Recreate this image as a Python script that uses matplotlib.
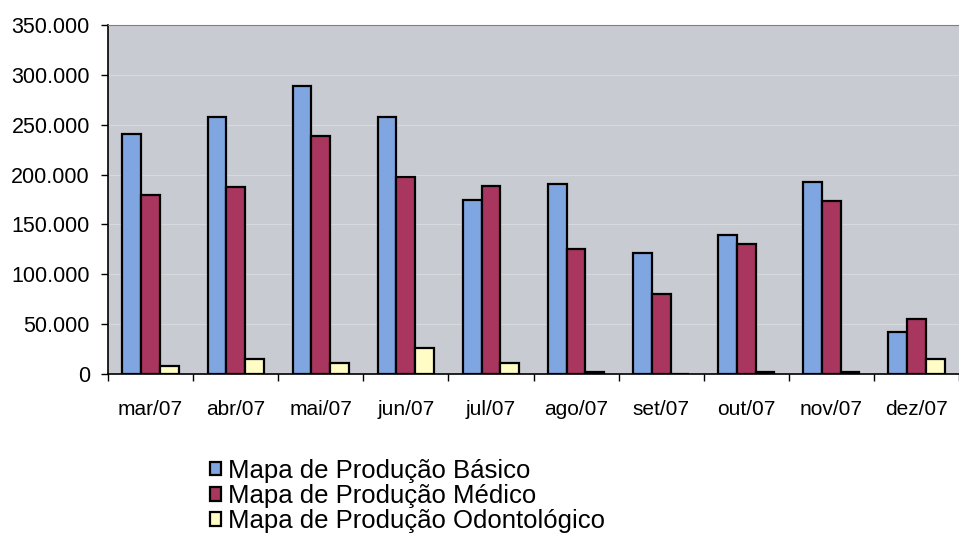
import numpy as np
import matplotlib.pyplot as plt
from matplotlib.ticker import FuncFormatter

plt.rcParams['font.family'] = ['Liberation Sans', 'DejaVu Sans']

meses = ["mar/07", "abr/07", "mai/07", "jun/07", "jul/07",
         "ago/07", "set/07", "out/07", "nov/07", "dez/07"]
basico = [241000, 258000, 289000, 258000, 174000, 191000, 121000, 139000, 193000, 42000]
medico = [180000, 188000, 239000, 198000, 189000, 125000, 80000, 130000, 173000, 55000]
odonto = [8000, 15000, 11000, 26000, 11000, 2000, 0, 2000, 2000, 15000]
series = ["Mapa de Produção Básico", "Mapa de Produção Médico",
          "Mapa de Produção Odontológico"]
cores = ["#7fa6e0", "#a8365f", "#fffcc6"]

fig = plt.figure(figsize=(9.59, 5.46), dpi=100)
ax = fig.add_axes([108/959, 1 - 374/546, 1 - 108/959, 349/546])
ax.set_facecolor("#c8cbd1")

x = np.arange(len(meses))
w = 0.22
for k, vals in enumerate([basico, medico, odonto]):
    ax.bar(x + (k - 1) * w, vals, w, color=cores[k], edgecolor="black",
           linewidth=1.6, label=series[k], zorder=3)

ax.set_ylim(0, 350000)
ax.set_xlim(-0.5, 9.38)
ax.set_yticks(np.arange(0, 350001, 50000))
ax.yaxis.set_major_formatter(FuncFormatter(lambda v, p: f"{int(v):,}".replace(",", ".")))
ax.grid(axis="y", color="#d6d9de", linewidth=0.8, zorder=0)

ax.set_xticks(x)
ax.set_xticklabels(meses)
ax.set_xticks(np.arange(-0.5, 9.6, 1), minor=True)
ax.tick_params(axis="x", which="major", length=0, pad=19, labelsize=15)
ax.tick_params(axis="x", which="minor", length=5, width=1, direction="out")
ax.tick_params(axis="y", length=5, width=1, pad=8, labelsize=15.5)

ax.spines["top"].set_color("#808080")
ax.spines["right"].set_visible(False)
ax.spines["left"].set_linewidth(1.2)
ax.spines["bottom"].set_linewidth(1.2)

ax.legend(loc="upper left", bbox_to_anchor=(210/959, 1 - 459/546),
          bbox_transform=fig.transFigure, frameon=False, fontsize=18.5,
          handlelength=0.42, handleheight=0.42, handletextpad=0.3,
          labelspacing=0.04, borderpad=0, borderaxespad=0)

fig.savefig("out.png", dpi=100, facecolor="white")
